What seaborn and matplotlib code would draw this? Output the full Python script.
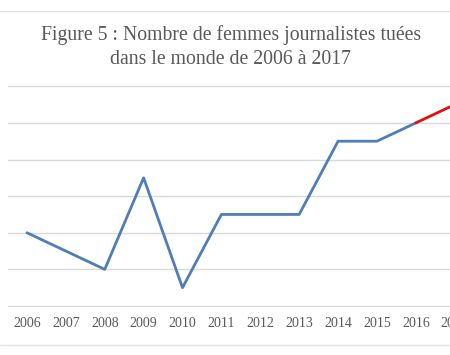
import matplotlib
matplotlib.use("Agg")
import matplotlib.pyplot as plt
import seaborn as sns
import pandas as pd
from matplotlib.lines import Line2D

# (one gridline = 2)
years = [2006, 2007, 2008, 2009, 2010, 2011, 2012, 2013, 2014, 2015, 2016, 2017]
killed = [4, 3, 2, 7, 1, 5, 5, 5, 9, 9, 10, 11]
title = "Figure 5 : Nombre de femmes journalistes tuées\ndans le monde de 2006 à 2017"

df = pd.DataFrame({"x": range(len(years)), "y": killed})
blue_part = df.iloc[:11]
red_part = df.iloc[10:]

sns.set_theme(style="white")
plt.rcParams["font.family"] = ["Liberation Serif", "DejaVu Serif"]

fig = plt.figure(figsize=(4.5, 3.55), dpi=100)
ax = fig.add_axes([0.0167, 0.135, 1.037, 0.625])

sns.lineplot(data=blue_part, x="x", y="y", ax=ax, color="#4f7db5", lw=2.0)
sns.lineplot(data=red_part, x="x", y="y", ax=ax, color="#e01010", lw=2.0)

ax.set_xlim(-0.5, len(years) - 0.5)
ax.set_ylim(-0.06, 12.06)
ax.set_yticks(range(0, 13, 2))
ax.set_yticklabels([])
ax.tick_params(axis="y", length=0)
ax.set_xticks(range(len(years)))
ax.set_xticklabels([str(y) for y in years], fontsize=10, color="#595959")
ax.tick_params(axis="x", length=0, pad=7)
ax.grid(axis="y", color="#d9d9d9", lw=1.0)
ax.set_axisbelow(True)
ax.set_xlabel("")
ax.set_ylabel("")
for s in ax.spines.values():
    s.set_visible(False)

fig.text(0.513, 0.93, title, ha="center", va="top", fontsize=14.2,
         color="#595959", linespacing=1.35)

# frame lines at top and bottom of the crop
fig.add_artist(Line2D([0, 1], [1 - 11 / 355, 1 - 11 / 355], color="#e3e3e3", lw=1.0))
fig.add_artist(Line2D([0, 1], [10 / 355, 10 / 355], color="#e3e3e3", lw=1.0))

fig.savefig("out.png", dpi=100)
